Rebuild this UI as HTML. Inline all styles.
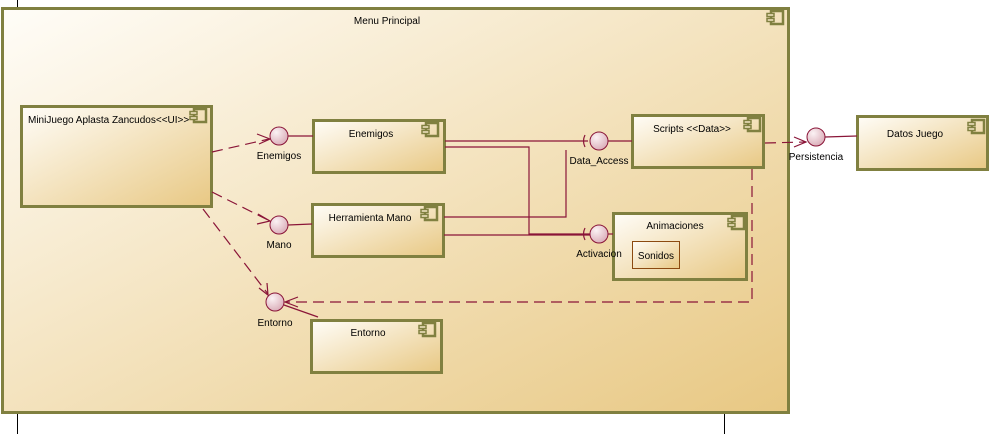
<!DOCTYPE html>
<html><head><meta charset="utf-8"><style>
html,body{margin:0;padding:0;background:#fff;width:1004px;height:434px;overflow:hidden}
text{font-family:"Liberation Sans",sans-serif;font-size:10px;fill:#000}
</style></head><body>
<svg width="1004" height="434" viewBox="0 0 1004 434" xmlns="http://www.w3.org/2000/svg">
<defs>
<linearGradient id="g" x1="0" y1="0" x2="1" y2="1">
<stop offset="0" stop-color="#fffdf8"/><stop offset="1" stop-color="#e8c883"/></linearGradient>
<radialGradient id="c" cx="0.35" cy="0.3" r="0.8">
<stop offset="0" stop-color="#fbf2f4"/><stop offset="1" stop-color="#d8a8b4"/></radialGradient>
<g id="ic"><rect x="4" y="0" width="12" height="13" fill="none" stroke="#808040" stroke-width="2.5"/><rect x="0" y="2.5" width="7" height="3" fill="#f3e6c4" stroke="#808040" stroke-width="1.5"/><rect x="0" y="7.5" width="7" height="3" fill="#f3e6c4" stroke="#808040" stroke-width="1.5"/></g>
</defs>
<line x1="17.5" y1="0" x2="17.5" y2="9" stroke="#000"/>
<line x1="17.5" y1="413" x2="17.5" y2="434" stroke="#000"/>
<line x1="724.5" y1="413" x2="724.5" y2="434" stroke="#000"/>
<rect x="2.5" y="8.5" width="786" height="404" fill="url(#g)" stroke="#808040" stroke-width="3"/>
<g transform="translate(767,11)"><use href="#ic"/></g>
<text x="387" y="24" text-anchor="middle">Menu Principal</text>

<g stroke="#808040" stroke-width="3" fill="url(#g)">
<rect x="21.5" y="106.5" width="190" height="100"/>
<rect x="313.5" y="120.5" width="131" height="52"/>
<rect x="312.5" y="204.5" width="131" height="52"/>
<rect x="311.5" y="320.5" width="130" height="52"/>
<rect x="632.5" y="115.5" width="131" height="52"/>
<rect x="613.5" y="213.5" width="133" height="66"/>
<rect x="857.5" y="116.5" width="130" height="53"/>
</g>
<rect x="632.5" y="241.5" width="47" height="27" fill="url(#g)" stroke="#8b4a10" stroke-width="1"/>
<g transform="translate(190,109)"><use href="#ic"/></g>
<g transform="translate(422,123)"><use href="#ic"/></g>
<g transform="translate(421,207)"><use href="#ic"/></g>
<g transform="translate(419,323)"><use href="#ic"/></g>
<g transform="translate(744,118)"><use href="#ic"/></g>
<g transform="translate(728,216)"><use href="#ic"/></g>
<g transform="translate(968,120)"><use href="#ic"/></g>

<text x="28" y="123">MiniJuego Aplasta Zancudos&lt;&lt;UI&gt;&gt;</text>
<text x="371" y="137" text-anchor="middle">Enemigos</text>
<text x="370" y="221" text-anchor="middle">Herramienta Mano</text>
<text x="368" y="336" text-anchor="middle">Entorno</text>
<text x="692" y="132" text-anchor="middle">Scripts &lt;&lt;Data&gt;&gt;</text>
<text x="675" y="229" text-anchor="middle">Animaciones</text>
<text x="656" y="259" text-anchor="middle">Sonidos</text>
<text x="915" y="137" text-anchor="middle">Datos Juego</text>

<g fill="none" stroke="#8a1538" stroke-width="1.2">
<line x1="288" y1="136" x2="313" y2="136"/>
<line x1="288" y1="225" x2="312" y2="224"/>
<line x1="284" y1="305" x2="318" y2="317"/>
<line x1="825" y1="137" x2="857" y2="136"/>
<line x1="608" y1="141" x2="632" y2="141"/>
<line x1="608" y1="234" x2="613" y2="234"/>
<path d="M445 141 H588"/>
<path d="M445 147 H529 V234 H590"/>
<path d="M444 217 H566 V150"/>
<path d="M444 235 H590"/>
<path d="M585 135 Q582 141 585 147"/>
<path d="M585 228 Q582 234 585 240"/>
<g stroke-dasharray="11,6">
<line x1="212" y1="152" x2="269" y2="139"/>
<line x1="212" y1="192" x2="270" y2="221"/>
<line x1="203" y1="209" x2="268" y2="294"/>
<path d="M752 169 V302 H286"/>
<line x1="765" y1="143" x2="806" y2="142"/>
</g>
<path d="M257 134 L270 139 L259 144"/>
<path d="M258 214 L270 221 L257 224"/>
<path d="M259 288 L268 295 L267 283"/>
<path d="M298 297 L285 302 L298 307"/>
<path d="M794 137 L806 142 L794 147"/>
</g>
<g fill="url(#c)" stroke="#8a1538" stroke-width="1">
<circle cx="279" cy="136" r="9"/>
<circle cx="279" cy="225" r="9"/>
<circle cx="275" cy="302" r="9"/>
<circle cx="599" cy="141" r="9"/>
<circle cx="599" cy="234" r="9"/>
<circle cx="816" cy="137" r="9"/>
</g>
<text x="279" y="159" text-anchor="middle">Enemigos</text>
<text x="279" y="248" text-anchor="middle">Mano</text>
<text x="275" y="326" text-anchor="middle">Entorno</text>
<text x="599" y="164" text-anchor="middle">Data_Access</text>
<text x="599" y="257" text-anchor="middle">Activacion</text>
<text x="816" y="160" text-anchor="middle">Persistencia</text>
</svg>
</body></html>
